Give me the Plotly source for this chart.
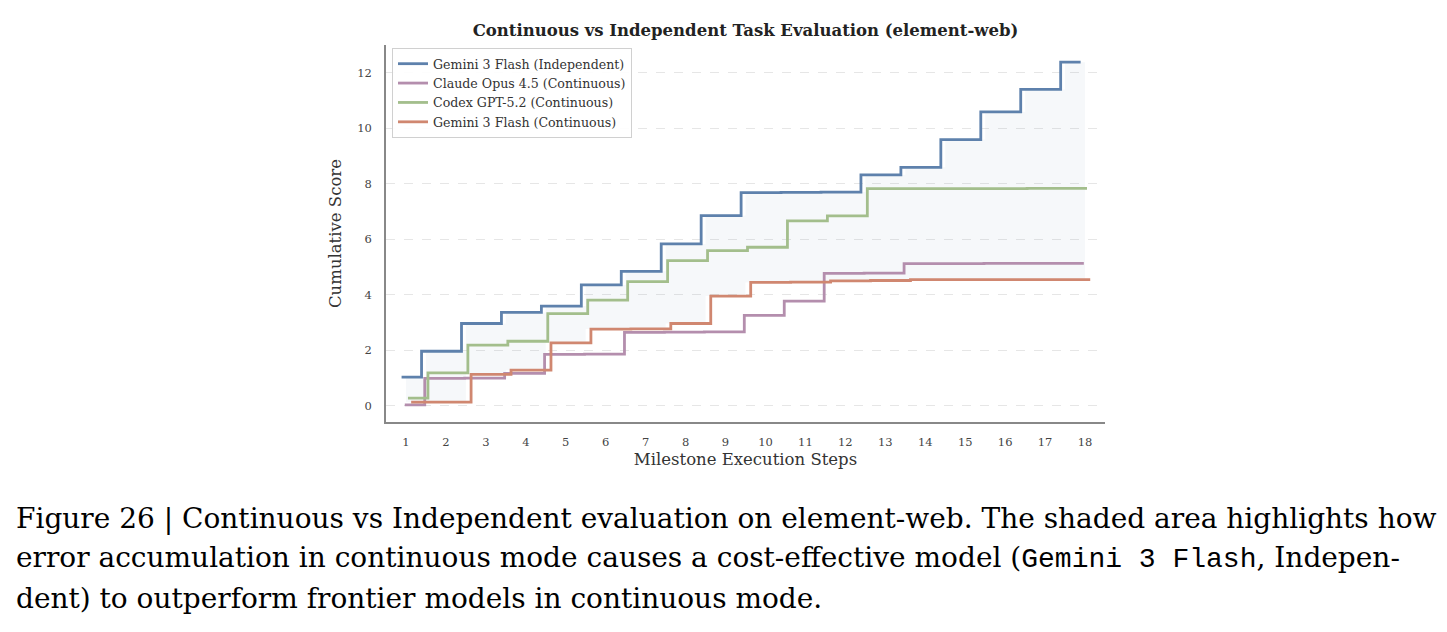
import plotly.graph_objects as go

# ---------------- data ----------------
steps = list(range(1, 19))
tick_labels = [str(s) for s in steps]
gemini_independent = [1.03, 1.96, 2.96, 3.36, 3.59, 4.35, 4.84, 5.83, 6.85, 7.68, 7.69, 7.70, 8.32, 8.59, 9.59, 10.59, 11.40, 12.38]
claude_continuous = [0.03, 0.98, 0.99, 1.16, 1.85, 1.86, 2.64, 2.65, 2.66, 3.25, 3.77, 4.77, 4.78, 5.12, 5.12, 5.13, 5.13, 5.13]
codex_continuous = [0.27, 1.18, 2.18, 2.32, 3.32, 3.80, 4.47, 5.23, 5.59, 5.71, 6.66, 6.84, 7.82, 7.82, 7.82, 7.82, 7.83, 7.83]
gemini_continuous = [0.13, 0.13, 1.13, 1.28, 2.26, 2.76, 2.77, 2.96, 3.95, 4.44, 4.45, 4.50, 4.51, 4.54, 4.54, 4.54, 4.54, 4.54]

series_names = ["Gemini 3 Flash (Independent)", "Claude Opus 4.5 (Continuous)",
                "Codex GPT-5.2 (Continuous)", "Gemini 3 Flash (Continuous)"]
series_values = [gemini_independent, claude_continuous, codex_continuous, gemini_continuous]
series_colors = ["#5E81AC", "#B48EAD", "#A3BE8C", "#D08770"]
x_offsets = [-0.11, -0.03, 0.05, 0.13]   # small horizontal jitter so steps don't overlap

title_text = "Continuous vs Independent Task Evaluation (element-web)"
caption_lines = [
    "Figure 26 | Continuous vs Independent evaluation on element-web. The shaded area highlights how",
    "error accumulation in continuous mode causes a cost-effective model (<span style=\"font-family:'Liberation Mono', 'DejaVu Sans Mono', monospace\">Gemini 3 Flash</span>, Indepen-",
    "dent) to outperform frontier models in continuous mode.",
]

# ---------------- layout geometry ----------------
W, H = 1447, 632
PL, PR, PT, PB = 386, 1105, 45, 422  # plot area in pixels


def paper_x(px):
    return (px - PL) / (PR - PL)


def paper_y(py):
    return (PB - py) / (PB - PT)


SERIF = "DejaVu Serif, Liberation Serif, serif"

fig = go.Figure()

# shaded area between independent and continuous Gemini
fig.add_trace(go.Scatter(x=steps, y=gemini_continuous, mode="lines",
                         line=dict(shape="hvh", width=0, color="rgba(0,0,0,0)"),
                         showlegend=False, hoverinfo="skip"))
fig.add_trace(go.Scatter(x=steps, y=gemini_independent, mode="lines",
                         line=dict(shape="hvh", width=0, color="rgba(0,0,0,0)"),
                         fill="tonexty", fillcolor="rgba(94,129,172,0.06)",
                         showlegend=False, hoverinfo="skip"))

for name, vals, col, off in zip(series_names, series_values, series_colors, x_offsets):
    fig.add_trace(go.Scatter(x=[s + off for s in steps], y=vals, mode="lines", name=name,
                             line=dict(shape="hvh", width=2.8, color=col)))

annotations = []
for i, line in enumerate(caption_lines):
    annotations.append(dict(
        text=line, xref="paper", yref="paper",
        x=paper_x(14), y=paper_y(518 + 40 * i), xanchor="left", yanchor="middle",
        showarrow=False, align="left",
        font=dict(family=SERIF, size=28, color="#000000")))

fig.update_layout(
    width=W, height=H,
    margin=dict(l=PL, r=W - PR, t=PT, b=H - PB, pad=0),
    paper_bgcolor="white", plot_bgcolor="white",
    font=dict(family=SERIF, color="#333333"),
    title=dict(text="<b>" + title_text + "</b>", x=paper_x((PL + PR) / 2), xref="paper",
               xanchor="center", y=1 - 30 / H, yanchor="middle",
               font=dict(family=SERIF, size=16.5, color="#222222")),
    showlegend=True,
    legend=dict(x=paper_x(392), y=paper_y(48), xanchor="left", yanchor="top",
                traceorder="normal",
                bgcolor="rgba(255,255,255,0.9)", bordercolor="#d0d0d0", borderwidth=1,
                font=dict(family=SERIF, size=12.6, color="#333333"),
                tracegroupgap=0, itemwidth=30),
    annotations=annotations,
)

fig.update_xaxes(range=[0.5, 18.5], tickmode="array", tickvals=steps, ticktext=tick_labels,
                 showgrid=False, zeroline=False, showline=True, linecolor="#888888", linewidth=1.5,
                 ticks="", ticklabelstandoff=8,
                 tickfont=dict(family=SERIF, size=11.5, color="#444444"),
                 title=dict(text="Milestone Execution Steps", standoff=6,
                            font=dict(family=SERIF, size=16.5, color="#333333")))
fig.update_yaxes(range=[-0.59, 13.0], tickmode="array", tickvals=[0, 2, 4, 6, 8, 10, 12],
                 showgrid=True, gridcolor="#e6e6e6", griddash="dash", gridwidth=1,
                 zeroline=False, showline=True, linecolor="#888888", linewidth=1.5,
                 ticks="", ticklabelstandoff=10,
                 tickfont=dict(family=SERIF, size=11.5, color="#444444"),
                 title=dict(text="Cumulative Score", standoff=12,
                            font=dict(family=SERIF, size=16.5, color="#333333")))

fig.write_html("out.html")
